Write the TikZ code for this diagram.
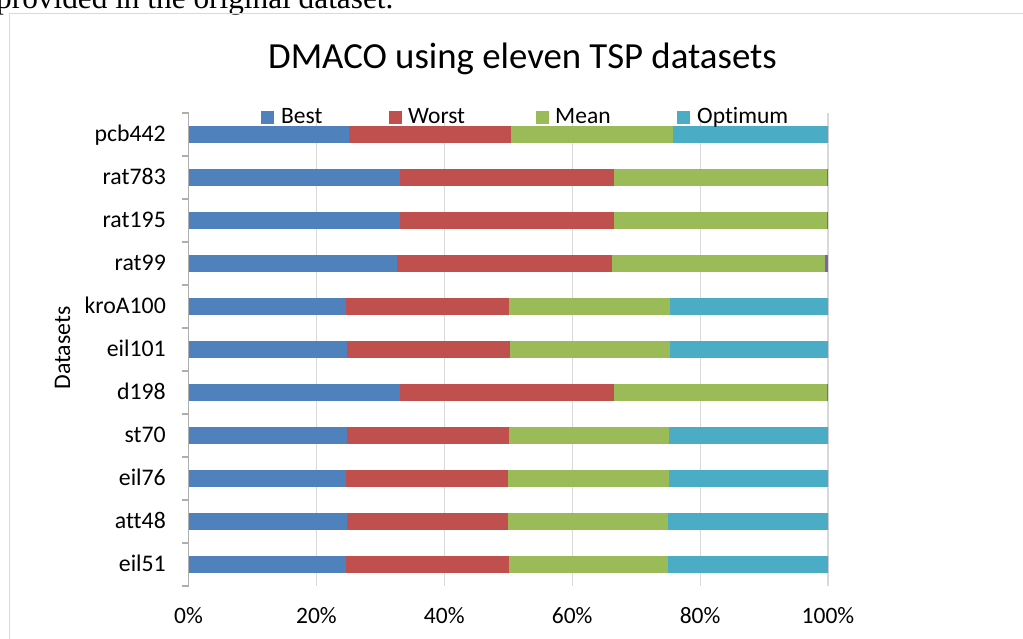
\documentclass[tikz,border=0pt]{standalone}
\usepackage{fontspec}
\setmainfont{Carlito}[Ligatures={NoCommon, NoRare, NoContextual}]
\newfontfamily\pagefont{Liberation Serif}
\usetikzlibrary{positioning}
\definecolor{bestblue}{HTML}{4F81BD}
\definecolor{worstred}{HTML}{C0504D}
\definecolor{meangreen}{HTML}{9BBB59}
\definecolor{optcyan}{HTML}{4BACC6}
\definecolor{extrapurple}{HTML}{8064A2}
\definecolor{gridgray}{HTML}{D9D9D9}
\tikzset{
  frameline/.style = {draw=gridgray, line width=1.5pt},
  gridline/.style  = {draw=gridgray, line width=1.2pt},
  axisline/.style  = {draw=gridgray!80!black, line width=1.2pt},
  catlabel/.style  = {font=\fontsize{23.8}{26}\selectfont, inner sep=0pt, anchor=base east},
  ticklabel/.style = {font=\fontsize{23.5}{26}\selectfont, inner sep=0pt, anchor=base},
  keylabel/.style  = {font=\fontsize{23.5}{26}\selectfont, inner sep=0pt, anchor=base west},
  titletext/.style = {font=\fontsize{36.8}{40}\selectfont, inner sep=0pt, anchor=base},
}

\begin{document}
\begin{tikzpicture}[x=1pt, y=-1pt]
    \useasboundingbox (0,0) rectangle (1023,639);
    \clip (0,0) rectangle (1023,639);

    % text of the page above the chart
    \node[anchor=base west, inner sep=0pt, font=\pagefont\fontsize{31.3}{34}\selectfont] (pagetext) at (-4,9) {provided in the original dataset.};
    \draw[frameline] (9.5,639) -- (9.5,13.5) -- (1023,13.5);

    \node[titletext] (title) at (522.5,69) {DMACO using eleven TSP datasets};

    % gridlines and tick labels
    \foreach \k in {1,...,5}
      \draw[gridline] ({188.5+127.9*\k},113) -- ({188.5+127.9*\k},586);
    \foreach \k [evaluate=\k as \pc using int(20*\k)] in {0,...,5}
      \node[ticklabel] (tick\k) at ({188.5+127.9*\k},623) {\pc\%};

    % bars
    \foreach \name/\b/\w/\m/\o/\e [count=\i from 0] in {
        pcb442/25.1/25.3/25.4/24.2/0,
        rat783/33.1/33.5/33.3/0/0.1,
        rat195/33.0/33.5/33.4/0/0.1,
        rat99/32.6/33.6/33.4/0/0.4,
        kroA100/24.6/25.5/25.2/24.7/0,
        eil101/24.8/25.5/25.0/24.7/0,
        d198/33.1/33.4/33.4/0/0.1,
        st70/24.8/25.3/25.0/24.9/0,
        eil76/24.6/25.4/25.1/24.9/0,
        att48/24.8/25.2/25.0/25.0/0,
        eil51/24.6/25.5/24.9/25.0/0} {
      \pgfmathsetmacro\yc{134.5+43*\i}
      \pgfmathsetmacro\xa{188.5+6.395*\b}
      \pgfmathsetmacro\xb{\xa+6.395*\w}
      \pgfmathsetmacro\xc{\xb+6.395*\m}
      \pgfmathsetmacro\xd{\xc+6.395*\o}
      \fill[bestblue]    (188.5,\yc-8.5) rectangle (\xa,\yc+8.5);
      \fill[worstred]    (\xa,\yc-8.5) rectangle (\xb,\yc+8.5);
      \fill[meangreen]   (\xb,\yc-8.5) rectangle (\xc,\yc+8.5);
      \fill[optcyan]     (\xc,\yc-8.5) rectangle (\xd,\yc+8.5);
      \fill[extrapurple] (\xd,\yc-8.5) rectangle (828,\yc+8.5);
      \node[catlabel] (cat\i) at (166,\yc+7.3) {\name};
    }

    % category axis with ticks
    \draw[axisline] (188.5,113) -- (188.5,586);
    \foreach \k in {0,...,11}
      \draw[axisline] (182,113+43*\k) -- (188.5,113+43*\k);

    \node[rotate=90, anchor=base, inner sep=0pt, font=\fontsize{23.8}{26}\selectfont] (ytitle) at (70,348) {Datasets};

    % legend
    \fill[bestblue]  (261,111) rectangle ++(13,13);
    \node[keylabel] (keybest) at (281,124) {Best};
    \fill[worstred]  (389,111) rectangle ++(13,13);
    \node[keylabel] (keyworst) at (408,124) {Worst};
    \fill[meangreen] (536,111) rectangle ++(13,13);
    \node[keylabel] (keymean) at (555,124) {Mean};
    \fill[optcyan]   (677,111) rectangle ++(13,13);
    \node[keylabel] (keyopt) at (697,124) {Optimum};
\end{tikzpicture}
\end{document}
